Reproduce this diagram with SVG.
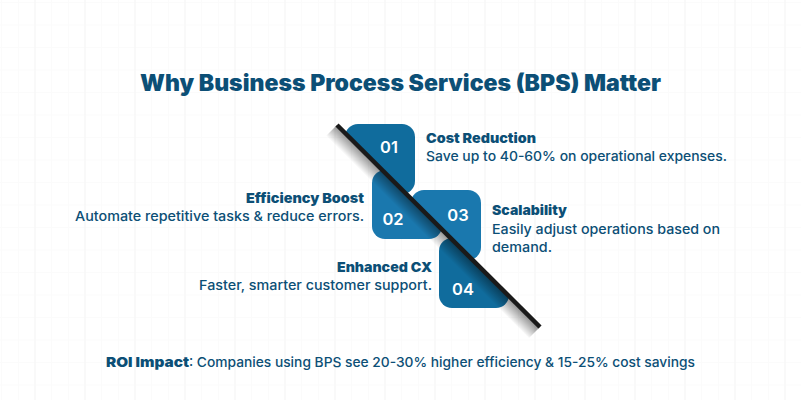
<svg xmlns="http://www.w3.org/2000/svg" width="801" height="400" viewBox="0 0 801 400">
<style>
text{font-family:"Inter","Noto Sans","DejaVu Sans",sans-serif;fill:#0c4f76}
.t{font-size:22.500px;font-weight:900}
.h{font-size:13.500px;font-weight:900}
.b{font-size:13.500px;font-weight:500}
.n{font-size:16.500px;font-weight:600;fill:#fff;text-anchor:middle}
.d{fill:#106c9d}.l{fill:#1a78ae}
</style>
<defs>
<pattern id="grid" x="2" y="2" width="50" height="22.500" patternUnits="userSpaceOnUse"><path d="M0 0H50" fill="none" stroke="#f8f8f8" stroke-width="1"/><path d="M33 0V22.500" fill="none" stroke="#f7f7f7" stroke-width="1.500"/><path d="M16.500 0V22.500M49.500 0V22.500" fill="none" stroke="#fbfbfb" stroke-width="1"/></pattern>
<clipPath id="ur"><path d="M330 117.500L560 347.500V100H330Z"/></clipPath>
<clipPath id="ll"><path d="M330 117.500L560 347.500H330Z"/></clipPath>
<linearGradient id="sh" gradientUnits="userSpaceOnUse" x1="438" y1="226" x2="427" y2="237"><stop offset="0" stop-color="#000" stop-opacity=".45"/><stop offset="1" stop-color="#000" stop-opacity="0"/></linearGradient>
</defs>
<rect width="801" height="400" fill="#fff"/>
<rect width="801" height="400" fill="url(#grid)"/>
<text class="t" x="140" y="91" textLength="521" lengthAdjust="spacingAndGlyphs">Why Business Process Services (BPS) Matter</text>
<g id="node-01"><rect class="d" x="345" y="124" width="70" height="70" rx="13" clip-path="url(#ur)"/><text class="n" x="389" y="153">01</text>
<text class="h" x="426" y="143" textLength="110" lengthAdjust="spacingAndGlyphs">Cost Reduction</text><text class="b" x="426" y="161" textLength="301" lengthAdjust="spacingAndGlyphs">Save up to 40-60% on operational expenses.</text></g>
<g id="node-02"><rect class="l" x="372" y="170" width="70" height="69" rx="13" clip-path="url(#ll)"/><text class="n" x="393" y="225">02</text>
<text class="h" x="246" y="203" textLength="118" lengthAdjust="spacingAndGlyphs">Efficiency Boost</text><text class="b" x="75" y="221" textLength="289" lengthAdjust="spacingAndGlyphs">Automate repetitive tasks &amp; reduce errors.</text></g>
<g id="node-03"><rect class="l" x="411" y="190" width="70" height="70" rx="13" clip-path="url(#ur)"/><text class="n" x="458" y="221">03</text>
<text class="h" x="492" y="215" textLength="75" lengthAdjust="spacingAndGlyphs">Scalability</text><text class="b" x="492" y="234" textLength="228" lengthAdjust="spacingAndGlyphs">Easily adjust operations based on</text><text class="b" x="492" y="252" textLength="60" lengthAdjust="spacingAndGlyphs">demand.</text></g>
<g id="node-04"><rect class="d" x="439" y="238" width="70" height="70" rx="13" clip-path="url(#ll)"/><text class="n" x="463" y="295">04</text>
<text class="h" x="337" y="272" textLength="95" lengthAdjust="spacingAndGlyphs">Enhanced CX</text><text class="b" x="199" y="290" textLength="233" lengthAdjust="spacingAndGlyphs">Faster, smarter customer support.</text></g>
<g id="connectors">
<path d="M337 125L540 327L529 338L326 136Z" fill="url(#sh)"/>
<path d="M337 125L540 327" fill="none" stroke="#1a1a1a" stroke-width="4.500"/>
</g>
<text class="h" x="106" y="367" textLength="83" lengthAdjust="spacingAndGlyphs">ROI Impact</text>
<text class="b" x="189" y="367" textLength="506" lengthAdjust="spacingAndGlyphs">: Companies using BPS see 20-30% higher efficiency &amp; 15-25% cost savings</text>
</svg>
